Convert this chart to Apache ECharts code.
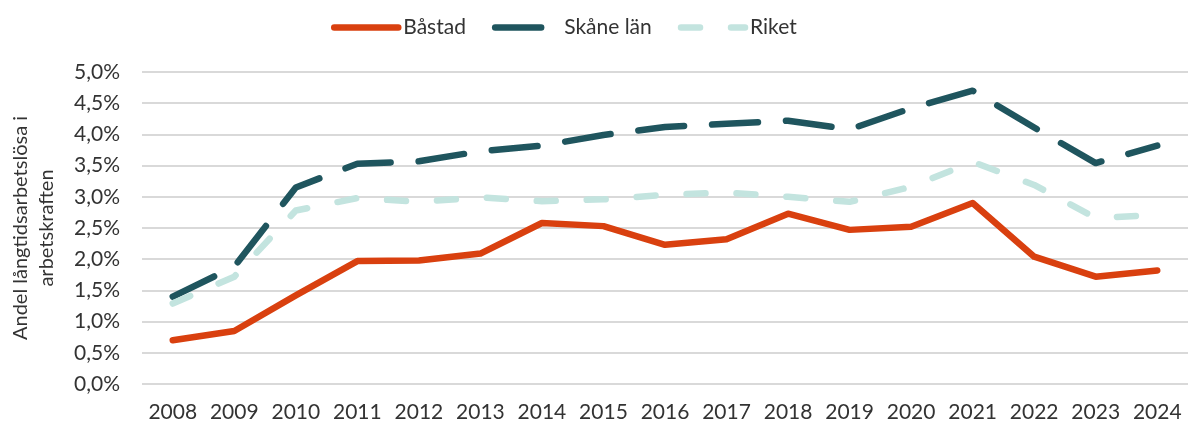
<!DOCTYPE html>
<html>
<head>
<meta charset="utf-8">
<script src="https://cdn.jsdelivr.net/npm/echarts@6/dist/echarts.min.js"></script>
<style>
  html, body { margin: 0; padding: 0; background: #fff; }
  #chart { width: 1188px; height: 423px; }
</style>
</head>
<body>
<div id="chart"></div>
<script>
var years = ["2008", "2009", "2010", "2011", "2012", "2013", "2014", "2015", "2016",
  "2017", "2018", "2019", "2020", "2021", "2022", "2023", "2024"];
var bastad = [0.70, 0.85, 1.42, 1.97, 1.98, 2.09, 2.58, 2.53, 2.23, 2.32, 2.73, 2.47, 2.52, 2.90, 2.04, 1.72, 1.82];
var skane = [1.40, 1.88, 3.15, 3.53, 3.57, 3.73, 3.82, 3.99, 4.12, 4.17, 4.22, 4.08, 4.42, 4.70, 4.11, 3.54, 3.82];
var riket = [1.29, 1.72, 2.78, 2.98, 2.92, 2.99, 2.93, 2.96, 3.03, 3.07, 3.00, 2.92, 3.16, 3.56, 3.19, 2.66, 2.71];

var font = "Lato";
var textColor = "#333333";
var chart = echarts.init(document.getElementById("chart"));
var option = {
  animation: false,
  textStyle: { fontFamily: font },
  legend: {
    top: 12,
    left: 326,
    itemWidth: 64,
    itemHeight: 6,
    itemGap: 26,
    itemStyle: { opacity: 0 },
    lineStyle: { width: 6.5, cap: "round" },
    textStyle: { fontSize: 21, color: textColor, fontFamily: font },
    data: ["Båstad", "Skåne län", "Riket"]
  },
  grid: { left: 137, right: 0, top: 72, bottom: 39, containLabel: false },
  xAxis: {
    type: "category",
    data: years,
    axisLine: { show: false },
    axisTick: { show: false },
    axisLabel: { fontSize: 21, color: textColor, margin: 18, interval: 0 }
  },
  yAxis: {
    type: "value",
    min: 0,
    max: 5,
    interval: 0.5,
    name: "Andel långtidsarbetslösa i\narbetskraften",
    nameLocation: "middle",
    nameGap: 82,
    nameTextStyle: { fontSize: 20, color: textColor, lineHeight: 26 },
    axisLabel: {
      fontSize: 21, color: textColor, margin: 22,
      formatter: function (v) { return v.toFixed(1).replace(".", ",") + "%"; }
    },
    splitLine: { lineStyle: { color: "#d9d9d9", width: 2 } }
  },
  series: [
    {
      name: "Båstad", type: "line", data: bastad, symbol: "none",
      lineStyle: { color: "#d9400f", width: 6.5, cap: "round", join: "round" },
      itemStyle: { color: "#d9400f" }
    },
    {
      name: "Skåne län", type: "line", data: skane, symbol: "none",
      lineStyle: { color: "#1f555e", width: 6.5, type: [46, 28], cap: "round", join: "round" },
      itemStyle: { color: "#1f555e" }
    },
    {
      name: "Riket", type: "line", data: riket, symbol: "none",
      lineStyle: { color: "#c3e4df", width: 6.5, type: [19, 31], cap: "round", join: "round" },
      itemStyle: { color: "#c3e4df" }
    }
  ]
};
chart.setOption(option);
</script>
</body>
</html>
